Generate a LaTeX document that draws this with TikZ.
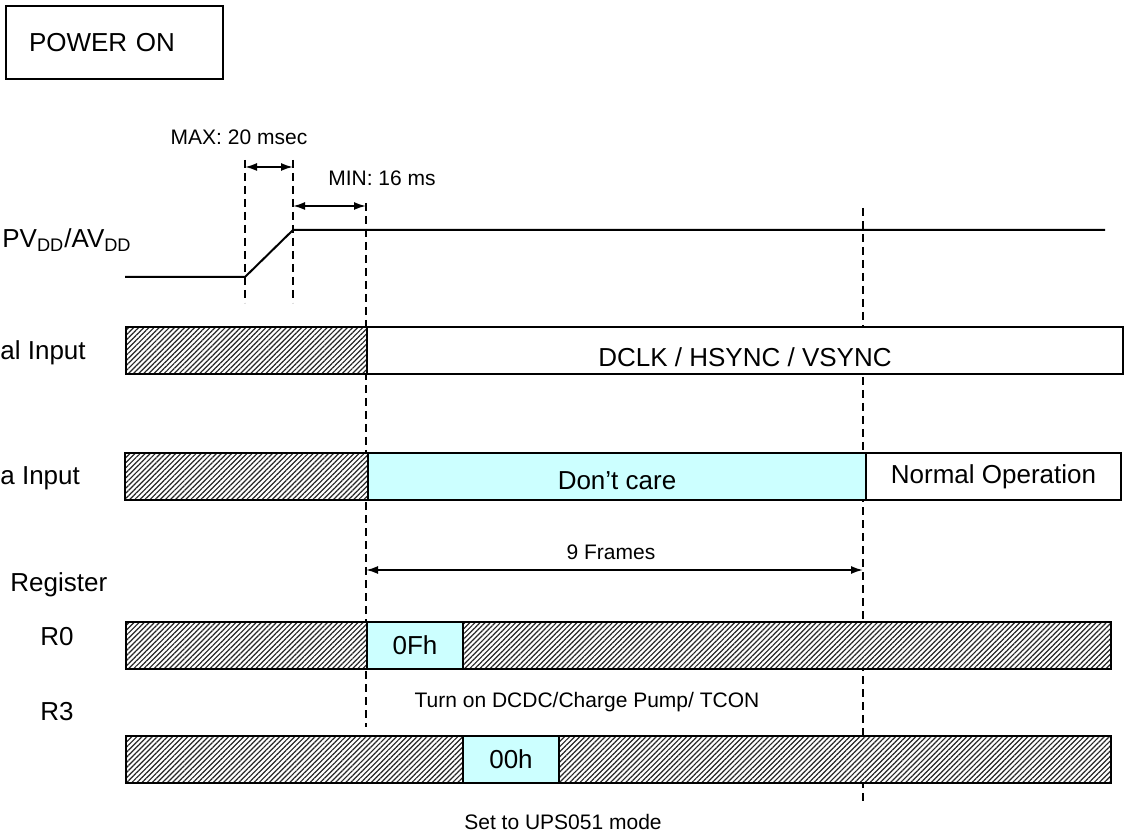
\documentclass[tikz,border=0pt]{standalone}
\usepackage{fontspec}
\setmainfont{Liberation Sans}
\usetikzlibrary{arrows.meta, positioning, patterns.meta}
\definecolor{carecyan}{HTML}{CCFFFF}

\begin{document}
\begin{tikzpicture}[
    x=0.5pt, y=-0.5pt,
    biglbl/.style={font=\fontsize{13}{15}\selectfont, inner sep=0pt},
    smalllbl/.style={font=\fontsize{10.5}{12}\selectfont, inner sep=0pt},
    rowbox/.style={draw, line width=1pt, anchor=north west, minimum height=23.5pt, inner sep=0pt, font=\fontsize{13}{15}\selectfont},
    hatchbox/.style={rowbox, preaction={fill=white}, pattern={Lines[angle=45, distance=1.8pt, line width=0.6pt]}, pattern color=black!85},
    cyanbox/.style={rowbox, fill=carecyan},
    whitebox/.style={rowbox, fill=white},
    guide/.style={line width=0.8pt, dash pattern=on 4pt off 2.5pt},
    wave/.style={line width=1pt},
    dimarrow/.style={{Latex[length=6pt, width=4pt]}-{Latex[length=6pt, width=4pt]}, line width=0.9pt}
]
\useasboundingbox (0,0) rectangle (1127,838);

% title box
\node[draw, line width=1pt, anchor=north west, minimum height=36.5pt, text width=85.5pt, inner xsep=11.5pt, align=left, font=\fontsize{13}{15}\selectfont] (pwr) at (5,5) {POWER ON};

% timing guides
\draw[guide] (245,160) coordinate (ta) -- (245,303);
\draw[guide] (293,160) coordinate (tb) -- (293,303);
\draw[guide] (366,203) coordinate (tc) -- (366,727);
\draw[guide] (863,208) coordinate (td) -- (863,802);

\coordinate (maxl) at (245,167);
\coordinate (maxr) at (293,167);
\coordinate (minl) at (293,206);
\coordinate (minr) at (366,206);
\draw[dimarrow] (maxl) -- (maxr);
\draw[dimarrow] (minl) -- (minr);
\node[smalllbl] (maxtxt) at (239,137) {MAX: 20 msec};
\node[smalllbl] (mintxt) at (382,178) {MIN: 16 ms};

% supply ramp
\node[biglbl, anchor=west] (supply) at (2,240) {PV\textsubscript{DD}/AV\textsubscript{DD}};
\coordinate (lowstart) at (125,277);
\coordinate (ramp0) at (245,277);
\coordinate (ramp1) at (293,230);
\coordinate (highend) at (1105,230);
\draw[wave] (lowstart) -- (ramp0) -- (ramp1) -- (highend);

% signal input
\node[biglbl, anchor=west] (siglbl) at (0,353) {al Input};
\node[hatchbox, minimum width=120.5pt] (sighatch) at (125,326) {};
\node[whitebox, minimum width=378pt] (sigon) at (366,326) {};
\node[biglbl] (sigtxt) at (745,357) {DCLK / HSYNC / VSYNC};

% data input
\node[biglbl, anchor=west] (datalbl) at (0,478) {a Input};
\node[hatchbox, minimum width=121.5pt] (datahatch) at (124,452) {};
\node[cyanbox, minimum width=249pt] (dontcare) at (367,452) {};
\node[biglbl] (caretxt) at (617,481) {Don’t care};
\node[whitebox, minimum width=127.5pt] (normal) at (865,452) {Normal Operation};

\coordinate (framel) at (366,570);
\coordinate (framer) at (863,570);
\draw[dimarrow] (framel) -- (framer);
\node[smalllbl] (frametxt) at (611,552) {9 Frames};

% registers
\node[biglbl, anchor=west] (reglbl) at (10,585) {Register};
\node[biglbl, anchor=west] (rzlbl) at (40,637) {R0};
\node[biglbl, anchor=west] (rtlbl) at (40,712) {R3};

\node[hatchbox, minimum width=120.5pt] (rzhatch) at (125,621) {};
\node[cyanbox, minimum width=48pt] (rzval) at (366,621) {0Fh};
\node[hatchbox, minimum width=324pt] (rzrest) at (462,621) {};
\node[smalllbl] (rznote) at (587,702) {Turn on DCDC/Charge Pump/ TCON};

\node[hatchbox, minimum width=168.5pt] (rthatch) at (125,735) {};
\node[cyanbox, minimum width=48pt] (rtval) at (462,735) {00h};
\node[hatchbox, minimum width=276pt] (rtrest) at (558,735) {};
\node[smalllbl] (rtnote) at (563,822) {Set to UPS051 mode};
\end{tikzpicture}
\end{document}
